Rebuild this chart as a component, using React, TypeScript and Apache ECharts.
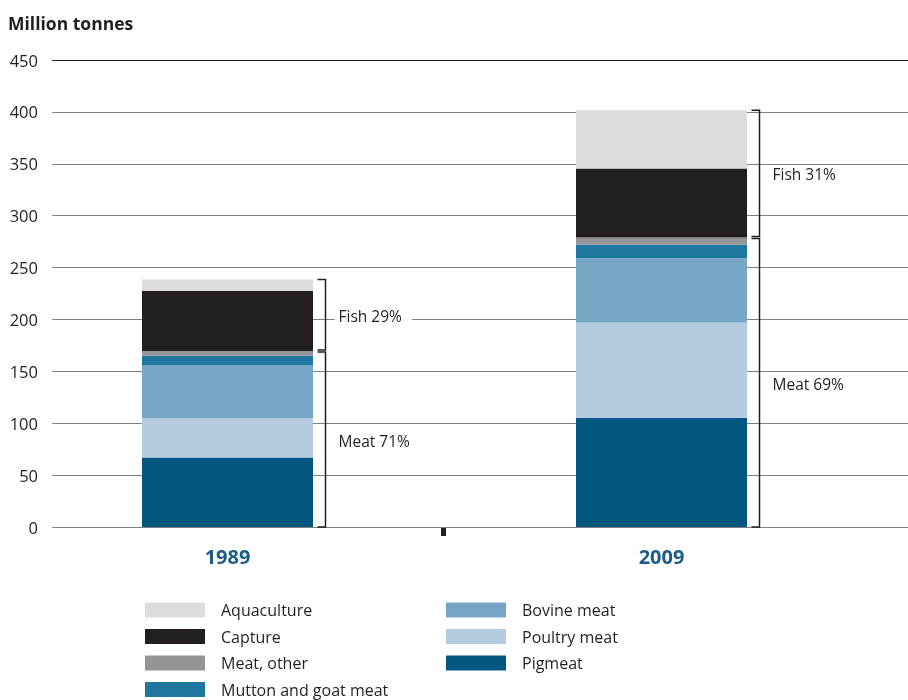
import React, { useEffect, useRef } from "react";
import * as echarts from "echarts";

// ---- data ----
const years = ["1989", "2009"];
const pigmeat = [67, 105];
const poultryMeat = [38, 92];
const bovineMeat = [51, 62];
const muttonGoat = [9, 13];
const meatOther = [4.5, 7];
const capture = [58, 66.5];
const aquaculture = [11, 56];
const fishLabels = ["Fish 29%", "Fish 31%"];
const meatLabels = ["Meat 71%", "Meat 69%"];
const yMin = 0;
const yMax = 450;
const yStep = 50;
const unitLabel = "Million tonnes";
const legendLeft = ["Aquaculture", "Capture", "Meat, other", "Mutton and goat meat"];
const legendRight = ["Bovine meat", "Poultry meat", "Pigmeat"];

// ---- style ----
const FONT = "'Open Sans', 'Noto Sans', sans-serif";
const INK = "#231f20";
const colors: Record<string, string> = {
  Pigmeat: "#02567f",
  "Poultry meat": "#b4cce0",
  "Bovine meat": "#78a6c6",
  "Mutton and goat meat": "#1f77a0",
  "Meat, other": "#939598",
  Capture: "#231f20",
  Aquaculture: "#dcdddf",
};

export default function App() {
  const ref = useRef<HTMLDivElement>(null);
  useEffect(() => {
    if (!ref.current) return;
    const chart = echarts.init(ref.current, undefined, { renderer: "svg" });

    const stackSeries: [string, number[]][] = [
      ["Pigmeat", pigmeat],
      ["Poultry meat", poultryMeat],
      ["Bovine meat", bovineMeat],
      ["Mutton and goat meat", muttonGoat],
      ["Meat, other", meatOther],
      ["Capture", capture],
      ["Aquaculture", aquaculture],
    ];
    const meatTotals = years.map(
      (_, i) => pigmeat[i] + poultryMeat[i] + bovineMeat[i] + muttonGoat[i] + meatOther[i]
    );
    const totals = years.map((_, i) => meatTotals[i] + capture[i] + aquaculture[i]);

    const bracket = (labels: string[], lowOffset: number, highOffset: number) =>
      (params: any, api: any) => {
        const idx = api.value(0);
        const low = api.value(1);
        const high = api.value(2);
        const center = api.coord([idx, 0])[0];
        const x = Math.round(center + 85.5 + 12) + 0.5;
        const yLow = api.coord([idx, low])[1] + lowOffset;
        const yHigh = api.coord([idx, high])[1] + highOffset;
        return {
          type: "group",
          children: [
            {
              type: "polyline",
              shape: {
                points: [
                  [x - 8, yHigh],
                  [x, yHigh],
                  [x, yLow],
                  [x - 8, yLow],
                ],
              },
              style: { stroke: INK, lineWidth: 1.5, fill: "none" },
            },
            {
              type: "text",
              x: x + 9,
              y: (yLow + yHigh) / 2 + 1,
              style: {
                text: labels[params.dataIndex],
                fill: INK,
                font: `15.5px ${FONT}`,
                lineHeight: 14,
                verticalAlign: "middle",
                align: "left",
                backgroundColor: "#ffffff",
                padding: [0, 10, 0, 4],
              },
            },
          ],
        };
      };

    const legendCommon = {
      orient: "vertical",
      itemWidth: 60,
      itemHeight: 15,
      itemGap: 10.5,
      height: 160,
      selectedMode: false,
      icon: "rect",
      textStyle: {
        fontFamily: FONT,
        fontSize: 16,
        lineHeight: 16,
        color: INK,
        padding: [0, 0, 0, 11],
      },
    };

    chart.setOption({
      animation: false,
      title: {
        text: unitLabel,
        left: 3,
        top: 9,
        textStyle: { fontFamily: FONT, fontSize: 17.5, fontWeight: "bold", color: INK },
      },
      grid: [
        { left: 52, right: 0, top: 60, height: 467 },
        { left: 10.5, width: 868, top: 60, height: 467 },
      ],
      xAxis: [
        { type: "value", gridIndex: 0, show: false, min: 0, max: 1 },
        {
          type: "category",
          gridIndex: 1,
          data: years,
          axisLine: { show: false },
          axisTick: { show: false },
          axisLabel: {
            margin: 19,
            fontFamily: FONT,
            fontSize: 20,
            fontWeight: "bold",
            color: "#1b5c88",
          },
        },
      ],
      yAxis: [
        {
          type: "value",
          gridIndex: 0,
          min: yMin,
          max: yMax,
          interval: yStep,
          axisLine: { show: false },
          axisTick: { show: false },
          axisLabel: { margin: 14, fontFamily: FONT, fontSize: 16.5, color: INK },
          splitLine: {
            lineStyle: {
              width: 1,
              color: [
                "#7f7f7f", "#7f7f7f", "#7f7f7f", "#7f7f7f", "#7f7f7f",
                "#7f7f7f", "#7f7f7f", "#7f7f7f", "#7f7f7f", "#231f20",
              ],
            },
          },
        },
        { type: "value", gridIndex: 1, min: yMin, max: yMax, show: false, splitLine: { show: false } },
      ],
      legend: [
        { ...legendCommon, left: 140, top: 597, data: legendLeft },
        { ...legendCommon, left: 441, top: 597, data: legendRight },
      ],
      series: [
        ...stackSeries.map(([name, values]) => ({
          name,
          type: "bar",
          stack: "total",
          xAxisIndex: 1,
          yAxisIndex: 1,
          barWidth: 171,
          data: values,
          itemStyle: { color: colors[name] },
          emphasis: { disabled: true },
        })),
        {
          type: "custom",
          name: "fishBracket",
          xAxisIndex: 1,
          yAxisIndex: 1,
          renderItem: bracket(fishLabels, -1, 0),
          data: years.map((_, i) => [i, meatTotals[i], totals[i]]),
          z: 5,
        },
        {
          type: "custom",
          name: "meatBracket",
          xAxisIndex: 1,
          yAxisIndex: 1,
          renderItem: bracket(meatLabels, 0, 1),
          data: years.map((_, i) => [i, 0, meatTotals[i]]),
          z: 5,
        },
      ],
      graphic: [
        {
          type: "rect",
          shape: { x: 441, y: 527, width: 5, height: 9 },
          style: { fill: INK },
        },
      ],
    });
    return () => chart.dispose();
  }, []);
  return (
    <div
      ref={ref}
      style={{ position: "fixed", left: 0, top: 0, width: 908, height: 700 }}
    />
  );
}
